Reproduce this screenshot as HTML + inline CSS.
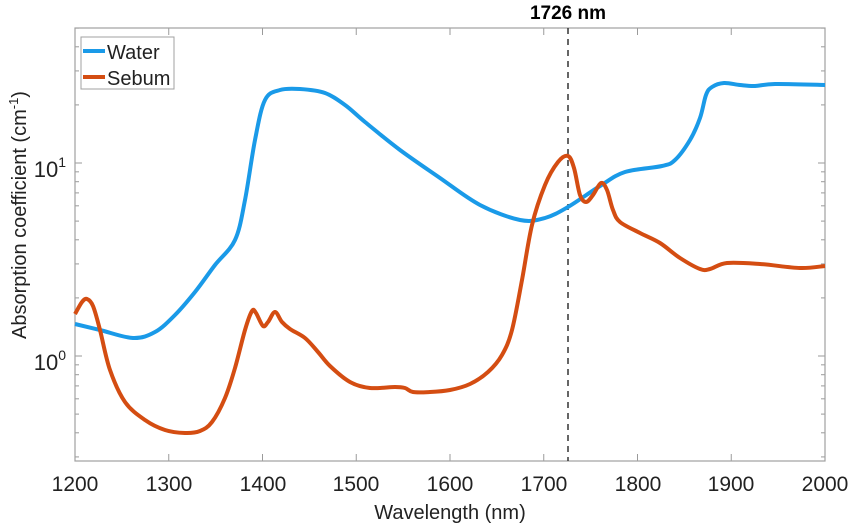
<!DOCTYPE html>
<html><head><meta charset="utf-8"><style>
html,body{margin:0;padding:0;background:#fff;}
svg{display:block;font-family:"Liberation Sans",Arial,sans-serif;}
</style></head><body>
<svg id="s" width="850" height="526" viewBox="0 0 850 526">
<rect x="0" y="0" width="850" height="526" fill="#fff"/>
<g id="ticks" stroke="#9a9a9a" stroke-width="1"></g>
<rect x="75" y="28" width="750" height="433" fill="none" stroke="#a0a0a0" stroke-width="1.2"/>
<line x1="568" y1="28" x2="568" y2="461" stroke="#333" stroke-width="1.5" stroke-dasharray="6,5"/>
<path id="water" fill="none" stroke="#1a9ae8" stroke-width="4" stroke-linejoin="round"/>
<path id="sebum" fill="none" stroke="#d44d12" stroke-width="4" stroke-linejoin="round"/>
<text x="568" y="19" font-size="19" font-weight="bold" text-anchor="middle">1726 nm</text>
<g font-size="21" fill="#222" text-anchor="middle">
<text x="75" y="491">1200</text><text x="169" y="491">1300</text><text x="263" y="491">1400</text><text x="356" y="491">1500</text><text x="450" y="491">1600</text><text x="544" y="491">1700</text><text x="638" y="491">1800</text><text x="731" y="491">1900</text><text x="825" y="491">2000</text>
</g>
<text x="450" y="519" font-size="20" fill="#222" text-anchor="middle">Wavelength (nm)</text>
<text x="66" y="370" font-size="22" fill="#222" text-anchor="end">10<tspan font-size="14" dy="-10">0</tspan></text>
<text x="66" y="177" font-size="22" fill="#222" text-anchor="end">10<tspan font-size="14" dy="-10">1</tspan></text>
<text transform="translate(26,215) rotate(-90)" font-size="20" fill="#222" text-anchor="middle">Absorption coefficient (cm<tspan font-size="13" dy="-8">-1</tspan><tspan dy="8">)</tspan></text>
<rect x="81" y="37" width="93" height="52" fill="#fff" stroke="#a0a0a0" stroke-width="1"/>
<line x1="83" y1="51" x2="105" y2="51" stroke="#1a9ae8" stroke-width="4"/>
<line x1="83" y1="77" x2="105" y2="77" stroke="#d44d12" stroke-width="4"/>
<text x="107" y="59" font-size="20" fill="#222">Water</text>
<text x="107" y="85" font-size="20" fill="#222">Sebum</text>
</svg>
<script>
function cr(p){var d="M"+p[0][0]+","+p[0][1];for(var i=0;i<p.length-1;i++){var a=p[i-1]||p[i],b=p[i],c=p[i+1],e=p[i+2]||c;d+=" C"+(b[0]+(c[0]-a[0])/6).toFixed(1)+","+(b[1]+(c[1]-a[1])/6).toFixed(1)+" "+(c[0]-(e[0]-b[0])/6).toFixed(1)+","+(c[1]-(e[1]-b[1])/6).toFixed(1)+" "+c[0]+","+c[1];}return d;}
var W=[[75,324],[100,330],[133,338],[155,332],[175,315],[195,292],[215,265],[235,240],[245,200],[255,140],[265,100],[280,90],[300,89],[325,93],[345,105],[365,122],[400,150],[440,178],[480,205],[520,220],[545,218],[568,207],[600,186],[625,172],[662,166],[675,160],[690,140],[700,118],[706,95],[712,87],[724,83],[740,85],[755,86],[775,84],[825,85]];
var S=[[75,314],[82,302],[87,299],[93,306],[100,330],[110,370],[125,402],[145,420],[165,430],[185,433],[200,431],[212,422],[225,398],[235,368],[245,330],[252,311],[256,313],[263,326],[268,322],[275,312],[282,322],[290,329],[305,338],[318,352],[330,366],[350,382],[370,388],[395,387],[405,388],[413,392],[430,392],[450,390],[470,384],[488,372],[502,355],[512,330],[522,280],[532,225],[545,185],[558,162],[568,156],[574,168],[580,195],[586,202],[593,195],[601,183],[607,190],[613,210],[620,222],[640,233],[660,243],[680,258],[700,269],[710,269],[727,263],[760,264],[800,268],[825,266]];
document.getElementById("water").setAttribute("d",cr(W));
document.getElementById("sebum").setAttribute("d",cr(S));
var g=document.getElementById("ticks"),h="";
for(var x=75;x<=826;x+=93.75){h+='<line x1="'+x+'" y1="461" x2="'+x+'" y2="454"/><line x1="'+x+'" y1="28" x2="'+x+'" y2="35"/>';}
var vals=[0.3,0.4,0.5,0.6,0.7,0.8,0.9,1,2,3,4,5,6,7,8,9,10,20,30,40,50];
vals.forEach(function(v){var y=356-193*Math.log10(v);var L=(v==1||v==10)?7:4;h+='<line x1="75" y1="'+y+'" x2="'+(75+L)+'" y2="'+y+'"/><line x1="825" y1="'+y+'" x2="'+(825-L)+'" y2="'+y+'"/>';});
g.innerHTML=h;
</script>
</body></html>
